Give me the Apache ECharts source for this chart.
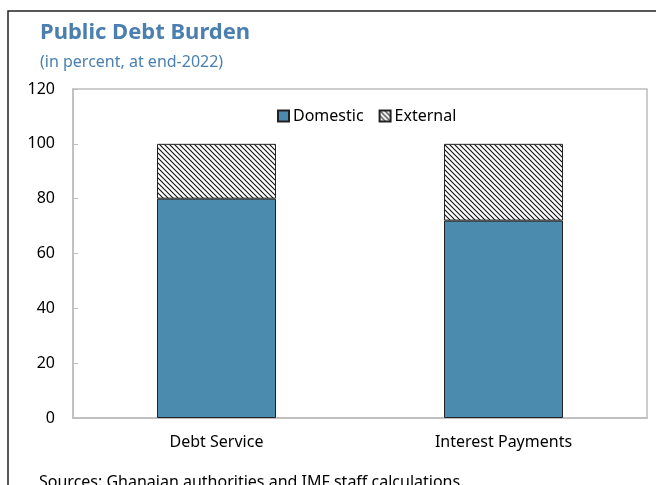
<!DOCTYPE html>
<html>
<head>
<meta charset="utf-8">
<script src="https://cdn.jsdelivr.net/npm/echarts@6/dist/echarts.min.js"></script>
<style>
  html, body { margin: 0; padding: 0; background: #fff; }
  #chart { width: 656px; height: 485px; }
</style>
</head>
<body>
<div id="chart"></div>
<script>
var categories = ['Debt Service', 'Interest Payments']
var domestic = [80, 72]
var external = [20, 28]
var yTicks = [0, 20, 40, 60, 80, 100, 120]

// hatch pattern for the external part
function hatch() {
  var c = document.createElement('canvas')
  c.width = 5
  c.height = 5
  var ctx = c.getContext('2d')
  ctx.fillStyle = '#fff'
  ctx.fillRect(0, 0, 5, 5)
  ctx.strokeStyle = '#111'
  ctx.lineWidth = 1.1
  ctx.beginPath()
  ctx.moveTo(-1, -1); ctx.lineTo(6, 6)
  ctx.moveTo(-4, 1); ctx.lineTo(4, 9)
  ctx.moveTo(1, -4); ctx.lineTo(9, 4)
  ctx.stroke()
  return c
}

var font = 'Noto Sans'
var chart = echarts.init(document.getElementById('chart'))
chart.setOption({
  animation: false,
  title: [{
    text: 'Public Debt Burden',
    left: 35, top: 17,
    textStyle: { fontFamily: font, fontSize: 22, fontWeight: 'bold', color: '#4a7fb0' }
  }, {
    text: '(in percent, at end-2022)',
    left: 35, top: 49,
    textStyle: { fontFamily: font, fontSize: 16, fontWeight: 'normal', color: '#4a7fb0' }
  }],
  legend: {
    top: 103, left: 272,
    itemWidth: 11, itemHeight: 11, itemGap: 15,
    icon: 'rect',
    textStyle: { fontFamily: font, fontSize: 16, color: '#000', padding: [0, 0, 0, -1] },
    data: ['Domestic', 'External']
  },
  grid: {
    left: 73, right: 9, top: 89, bottom: 67,
    show: true, borderColor: '#bdbdbd', borderWidth: 1.5
  },
  xAxis: {
    type: 'category',
    data: categories,
    axisLine: { lineStyle: { color: '#bdbdbd', width: 1.5 } },
    axisTick: { inside: true, length: 6, lineStyle: { color: '#bdbdbd' } },
    axisLabel: { fontFamily: font, fontSize: 16, color: '#000', margin: 16 }
  },
  yAxis: {
    type: 'value',
    min: yTicks[0], max: yTicks[yTicks.length - 1], interval: 20,
    axisLine: { show: true, lineStyle: { color: '#bdbdbd', width: 1.5 } },
    axisTick: { show: true, inside: true, length: 5, lineStyle: { color: '#bdbdbd' } },
    splitLine: { show: false },
    axisLabel: { fontFamily: font, fontSize: 16, color: '#000', margin: 18 }
  },
  series: [{
    name: 'Domestic',
    type: 'bar',
    stack: 'total',
    barWidth: 119,
    data: domestic,
    itemStyle: { color: '#4b8bad', borderColor: '#222', borderWidth: 1 }
  }, {
    name: 'External',
    type: 'bar',
    stack: 'total',
    barWidth: 119,
    data: external,
    itemStyle: { color: { image: hatch(), repeat: 'repeat' }, borderColor: '#222', borderWidth: 1 }
  }],
  graphic: [{
    type: 'polyline',
    shape: { points: [[8, 485], [8, 11], [656, 11]] },
    style: { stroke: '#222', lineWidth: 1.5, fill: null }
  }, {
    type: 'text',
    left: 39, top: 474,
    style: { text: 'Sources: Ghanaian authorities and IMF staff calculations.', font: '16px "Noto Sans"', fill: '#000' }
  }]
})
</script>
</body>
</html>
